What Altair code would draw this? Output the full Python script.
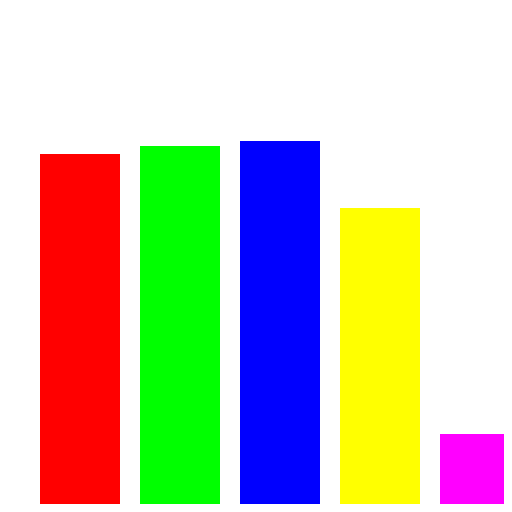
import altair as alt
import pandas as pd

# Bar categories, heights and colours
categories = ['A', 'B', 'C', 'D', 'E']
values = [358, 366, 371, 304, 78]
colors = ['#ff0000', '#00ff00', '#0000ff', '#ffff00', '#ff00ff']

data = pd.DataFrame({'Category': categories, 'Value': values})

chart = (
    alt.Chart(data)
    .mark_bar(clip=True)
    .encode(
        x=alt.X('Category:N', axis=None,
                scale=alt.Scale(range=[0, 544], paddingInner=0.2, paddingOuter=0.32)),
        y=alt.Y('Value:Q', axis=None,
                scale=alt.Scale(domain=[8, 504], nice=False, zero=False)),
        color=alt.Color('Category:N', legend=None,
                        scale=alt.Scale(domain=categories, range=colors))
    )
    .properties(width=496, height=496, padding=0)
    .configure_view(stroke=None)
)

chart.save("out.html", embed_options={"renderer": "svg", "actions": False})
